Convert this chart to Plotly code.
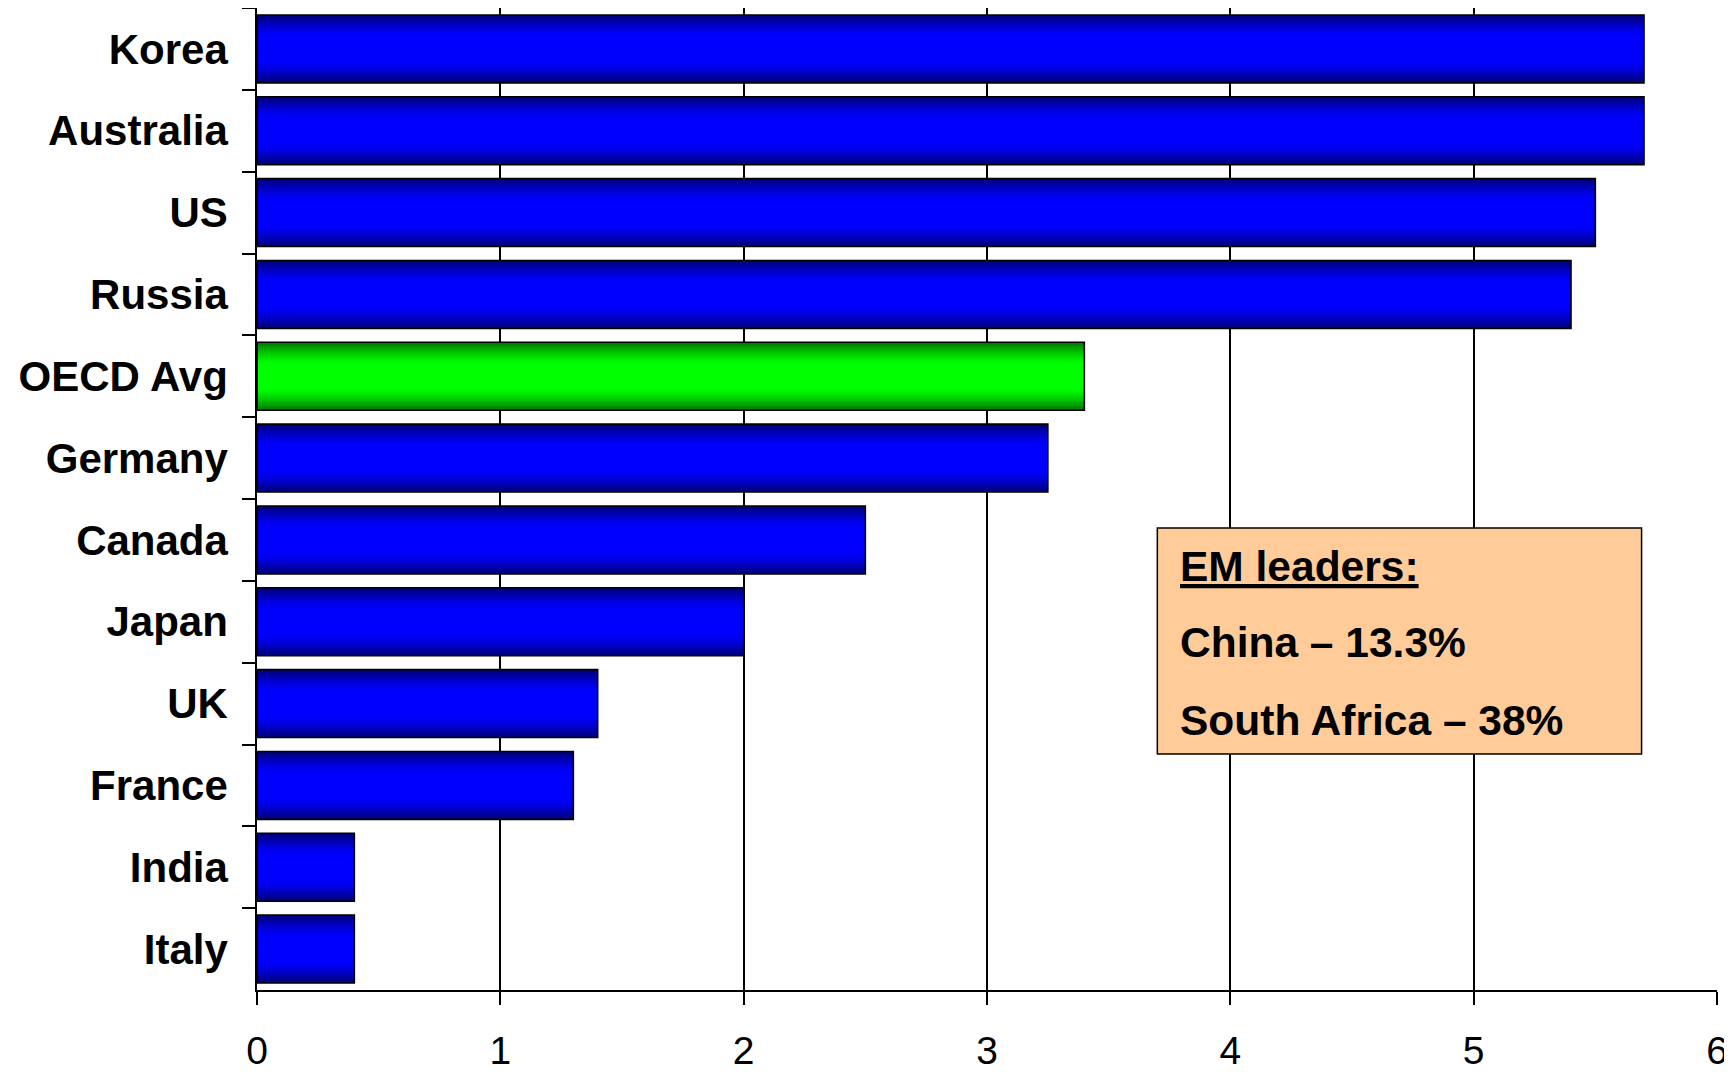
import plotly.graph_objects as go

countries = ["Korea", "Australia", "US", "Russia", "OECD Avg", "Germany",
             "Canada", "Japan", "UK", "France", "India", "Italy"]
values = [5.70, 5.70, 5.50, 5.40, 3.40, 3.25, 2.50, 2.00, 1.40, 1.30, 0.40, 0.40]
highlight = "OECD Avg"
x_ticks = [0, 1, 2, 3, 4, 5, 6]
note_lines = ["<u>EM leaders:</u>", "China \u2013 13.3%", "South Africa \u2013 38%"]

FONT = "Liberation Sans, Arial, sans-serif"
BAR_W = 0.83
N_LAYERS = 26


def shade(d, base):
    # d: 0 at bar centre, 1 at bar edge
    if d < 0.35:
        b = 1.0
    else:
        b = 1.0 - 0.55 * ((d - 0.35) / 0.65) ** 1.4
    r, g, bl = base
    return f"rgb({int(r*b)},{int(g*b)},{int(bl*b)})"


fig = go.Figure()
for k in range(N_LAYERS):
    outer = 1 - k / N_LAYERS
    inner = 1 - (k + 1) / N_LAYERS
    d = (outer + inner) / 2
    cols = [shade(d, (0, 255, 0) if c == highlight else (0, 0, 255)) for c in countries]
    fig.add_trace(go.Bar(
        x=values, y=countries, orientation="h",
        width=BAR_W * outer,
        marker=dict(color=cols, line=dict(width=0)),
        hoverinfo="skip", showlegend=False,
    ))

# outline
fig.add_trace(go.Bar(
    x=values, y=countries, orientation="h", width=BAR_W,
    marker=dict(color="rgba(0,0,0,0)", line=dict(color="black", width=1.6)),
    showlegend=False,
))

# page body adds an 8px offset; size the figure to fit the window
fig.update_layout(
    width=1724, height=1066,
    barmode="overlay",
    plot_bgcolor="white", paper_bgcolor="white",
    margin=dict(l=249, r=15, t=0, b=84, autoexpand=False),
    font=dict(family=FONT, color="black"),
    showlegend=False,
)

fig.update_xaxes(
    range=[0, 6], tickvals=x_ticks, ticktext=[str(t) for t in x_ticks],
    showgrid=True, gridcolor="black", gridwidth=1.5,
    showline=True, linecolor="black", linewidth=1.5,
    ticks="outside", ticklen=13, tickwidth=1.5, tickcolor="black",
    tickfont=dict(size=39, family=FONT, color="black"),
    zeroline=False, ticklabelstandoff=12, automargin=False,
)
fig.update_yaxes(
    categoryorder="array", categoryarray=countries,
    range=[len(countries) - 0.5, -0.5],
    showgrid=False,
    showline=True, linecolor="black", linewidth=1.5,
    ticks="outside", ticklen=13, tickwidth=1.5, tickcolor="black",
    tickson="boundaries",
    tickfont=dict(size=42, family=FONT, color="black", weight="bold"),
    ticklabelstandoff=19, automargin=False,
)

# note box
fig.add_shape(type="rect", xref="x", yref="paper",
              x0=3.70, x1=5.69, y0=0.2403, y1=0.4705,
              fillcolor="#FFCC99", line=dict(color="black", width=1.5),
              layer="above")
note_y = [0.4310, 0.3540, 0.2745]
for txt, yy in zip(note_lines, note_y):
    fig.add_annotation(x=3.785, xref="x", y=yy, yref="paper",
                       text=f"<b>{txt}</b>", showarrow=False,
                       xanchor="left", yanchor="middle",
                       font=dict(size=42.5, family=FONT, color="black"))

fig.write_html("out.html")
